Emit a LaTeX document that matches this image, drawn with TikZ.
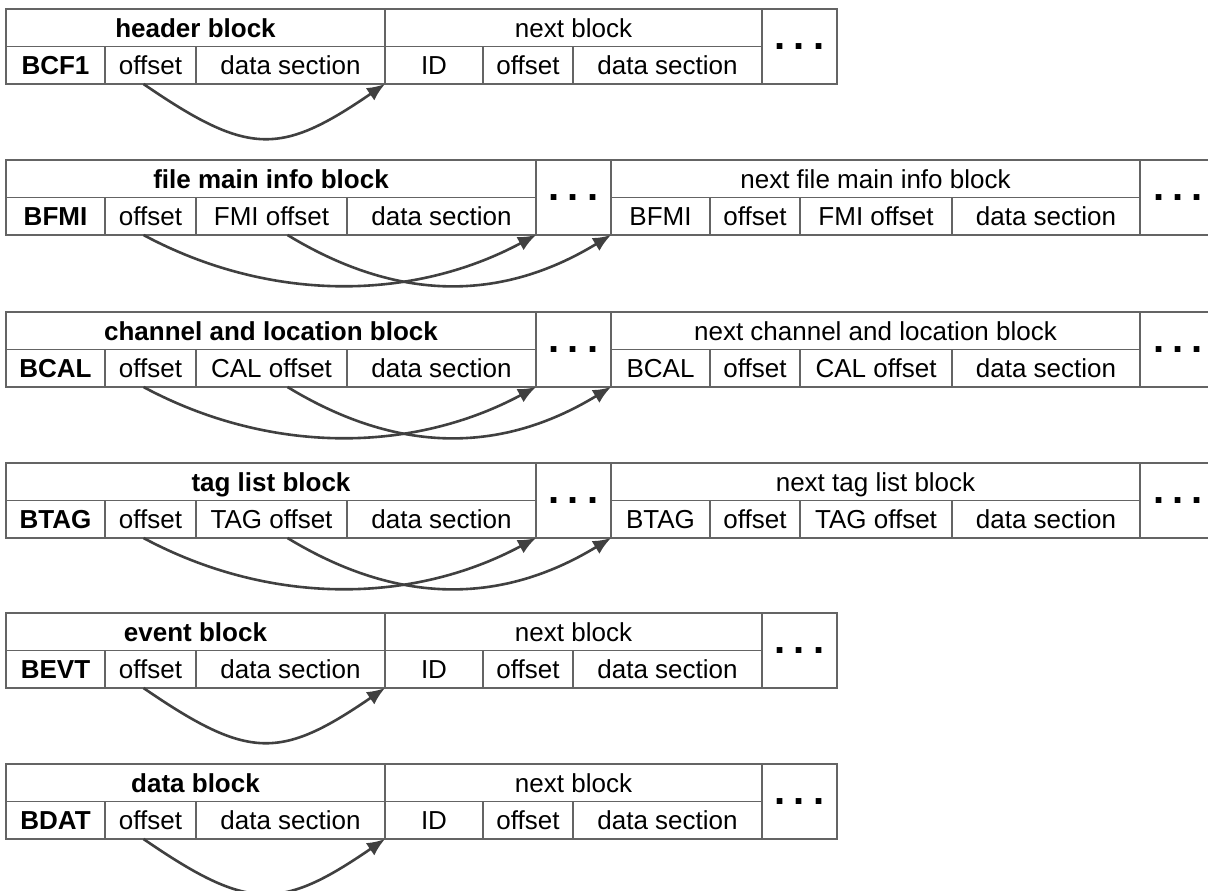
\documentclass[tikz,border=0pt]{standalone}
\usepackage{fontspec}
\setmainfont{Liberation Sans}
\usetikzlibrary{arrows.meta}
\definecolor{cellline}{RGB}{100,100,100}
\definecolor{arrowcol}{RGB}{64,64,64}
\tikzset{
  box/.style={draw=cellline, line width=0.8pt, inner sep=0pt, outer sep=0pt, anchor=center, font=\fontsize{13}{15}\selectfont},
  cell/.style={box, text height=9.3pt, text depth=0pt},
  bcell/.style={cell, font=\fontsize{13}{15}\selectfont\bfseries},
  dotcell/.style={box, font=\fontsize{20}{20}\selectfont\bfseries},
  link/.style={draw=arrowcol, line width=1.3pt, -{Latex[length=9pt,width=7.5pt]}},
}
% style, name, x1, y1, x2, y2, text
\newcommand\mkcell[7]{%
  \node[#1, minimum width={(#5-#3)*0.5pt}, minimum height={(#6-#4)*0.5pt}] (#2) at ({(#3+#5)/2},{(#4+#6)/2}) {#7};}
\newcommand\dotstext{.\kern4pt.\kern4pt.}
% prefix, top, title, id
\newcommand\rowA[4]{%
  \pgfmathsetmacro\ta{#2}\pgfmathsetmacro\tm{#2+37.5}\pgfmathsetmacro\tb{#2+75}%
  \mkcell{bcell}{#1t}{6}{\ta}{385}{\tm}{#3}
  \mkcell{bcell}{#1i}{6}{\tm}{105}{\tb}{#4}
  \mkcell{cell}{#1o}{105}{\tm}{196}{\tb}{offset}
  \mkcell{cell}{#1d}{196}{\tm}{385}{\tb}{data section}
  \mkcell{cell}{#1nt}{385}{\ta}{762}{\tm}{next block}
  \mkcell{cell}{#1ni}{385}{\tm}{483}{\tb}{ID}
  \mkcell{cell}{#1no}{483}{\tm}{573}{\tb}{offset}
  \mkcell{cell}{#1nd}{573}{\tm}{762}{\tb}{data section}
  \mkcell{dotcell}{#1e}{762}{\ta}{837}{\tb}{\dotstext}
  \draw[link] ([xshift=-3.5pt]#1o.south) .. controls +(105,72) and +(-105,72) .. (#1d.south east);
}
% prefix, top, title, id, xlabel, next title
\newcommand\rowB[6]{%
  \pgfmathsetmacro\ta{#2}\pgfmathsetmacro\tm{#2+37.5}\pgfmathsetmacro\tb{#2+75}%
  \mkcell{bcell}{#1t}{6}{\ta}{536}{\tm}{#3}
  \mkcell{bcell}{#1i}{6}{\tm}{105}{\tb}{#4}
  \mkcell{cell}{#1o}{105}{\tm}{196}{\tb}{offset}
  \mkcell{cell}{#1x}{196}{\tm}{347}{\tb}{#5}
  \mkcell{cell}{#1d}{347}{\tm}{536}{\tb}{data section}
  \mkcell{dotcell}{#1e}{536}{\ta}{611}{\tb}{\dotstext}
  \mkcell{cell}{#1nt}{611}{\ta}{1140}{\tm}{#6}
  \mkcell{cell}{#1ni}{611}{\tm}{710}{\tb}{#4}
  \mkcell{cell}{#1no}{710}{\tm}{800}{\tb}{offset}
  \mkcell{cell}{#1nx}{800}{\tm}{952}{\tb}{#5}
  \mkcell{cell}{#1nd}{952}{\tm}{1140}{\tb}{data section}
  \mkcell{dotcell}{#1f}{1140}{\ta}{1216}{\tb}{\dotstext}
  \draw[link] ([xshift=-3.5pt]#1o.south) .. controls +(125,67) and +(-125,67) .. (#1d.south east);
  \draw[link] ([xshift=8pt]#1x.south) .. controls +(110,67) and +(-110,67) .. (#1e.south east);
}
\begin{document}
\begin{tikzpicture}[x=0.5pt,y=-0.5pt]
\useasboundingbox (0,0) rectangle (1208,890);
\rowA{r1}{9}{header block}{BCF1}
\rowB{r2}{160}{file main info block}{BFMI}{FMI offset}{next file main info block}
\rowB{r3}{312}{channel and location block}{BCAL}{CAL offset}{next channel and location block}
\rowB{r4}{463}{tag list block}{BTAG}{TAG offset}{next tag list block}
\rowA{r5}{613}{event block}{BEVT}
\rowA{r6}{764}{data block}{BDAT}
\end{tikzpicture}
\end{document}
